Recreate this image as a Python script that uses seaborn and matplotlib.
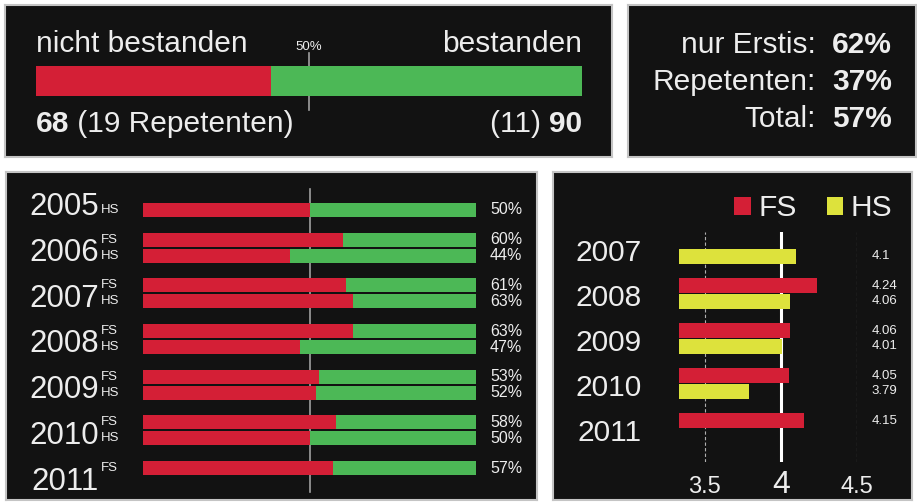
import numpy as np
import pandas as pd
import matplotlib
matplotlib.use("Agg")
import matplotlib.pyplot as plt
import matplotlib.transforms as mtransforms
import seaborn as sns

# Gesamtergebnis
failed_total = 68
passed_total = 90
failed_repeaters = 19
passed_repeaters = 11
rate_labels = ["nur Erstis:", "Repetenten:", "Total:"]
rate_values = ["62%", "37%", "57%"]

# Bestehensquote pro Pruefung
exam_years = ["2005", "2006", "2006", "2007", "2007", "2008", "2008",
              "2009", "2009", "2010", "2010", "2011"]
exam_sessions = ["HS", "FS", "HS", "FS", "HS", "FS", "HS", "FS", "HS", "FS", "HS", "FS"]
exam_pass_pct = [50, 60, 44, 61, 63, 63, 47, 53, 52, 58, 50, 57]

# Notenschnitt
grade_years = ["2007", "2008", "2008", "2009", "2009", "2010", "2010", "2011"]
grade_sessions = ["HS", "FS", "HS", "FS", "HS", "FS", "HS", "FS"]
grade_avg = [4.1, 4.24, 4.06, 4.06, 4.01, 4.05, 3.79, 4.15]
grade_ticks = [3.5, 4, 4.5]

sessions = ["FS", "HS"]

RED = "#d41f36"
GREEN = "#4cb856"
YELLOW = "#dde23c"
BG = "#121212"
EDGE = "#c4c4c4"
TXT = "#ededed"
LINE = "#a0a0a0"
BIG = 21.5

plt.rcParams['font.family'] = ['Liberation Sans', 'DejaVu Sans']

W, H = 917, 504


# pixel box (left, top, right, bottom) -> figure rect
def px_rect(x0, y0, x1, y1):
    return [x0 / W, 1 - y1 / H, (x1 - x0) / W, (y1 - y0) / H]


def panel(fig, box):
    ax = fig.add_axes(px_rect(*box))
    ax.set_facecolor(BG)
    ax.set_xticks([])
    ax.set_yticks([])
    for s in ax.spines.values():
        s.set_color(EDGE)
        s.set_linewidth(1.5)
    ax.set_xlim(box[0], box[2])
    ax.set_ylim(box[3], box[1])
    return ax


def clean(ax):
    ax.set_facecolor("none")
    for s in ax.spines.values():
        s.set_visible(False)
    ax.set_xlabel("")
    ax.set_ylabel("")
    ax.tick_params(left=False, bottom=False, labelleft=False, labelbottom=False)


fig = plt.figure(figsize=(W / 100, H / 100), dpi=100)
fig.patch.set_facecolor("white")

# ---- Panel oben links: Gesamtbalken ----
p1 = panel(fig, (5, 5, 612, 157))
ax1 = fig.add_axes(px_rect(36, 66, 582, 96))
total = failed_total + passed_total
sns.barplot(x=[total], y=["alle"], color=GREEN, width=1, saturation=1, linewidth=0, ax=ax1)
sns.barplot(x=[failed_total], y=["alle"], color=RED, width=1, saturation=1, linewidth=0, ax=ax1)
ax1.set_xlim(0, total)
ax1.set_ylim(0.5, -0.5)
clean(ax1)
ax1.axvline(total / 2, ymin=-0.47, ymax=1.43, clip_on=False, color=LINE, lw=1.2, zorder=0)

p1.text(36, 52, "nicht bestanden", color=TXT, fontsize=BIG, ha="left", va="baseline")
p1.text(582, 52, "bestanden", color=TXT, fontsize=BIG, ha="right", va="baseline")
p1.text(309, 50, "50%", color=TXT, fontsize=9.5, ha="center", va="baseline")
t = p1.text(36, 138, str(failed_total), color=TXT, fontsize=BIG, fontweight="bold",
            ha="left", va="bottom")
p1.annotate(f" ({failed_repeaters} Repetenten)", xy=(1, 0), xycoords=t, color=TXT,
            fontsize=BIG, ha="left", va="bottom")
t = p1.text(582, 138, str(passed_total), color=TXT, fontsize=BIG, fontweight="bold",
            ha="right", va="bottom")
p1.annotate(f"({passed_repeaters}) ", xy=(0, 0), xycoords=t, color=TXT,
            fontsize=BIG, ha="right", va="bottom")

# ---- Panel oben rechts: Quoten ----
p2 = panel(fig, (628, 5, 916, 157))
for i, (lab, val) in enumerate(zip(rate_labels, rate_values)):
    p2.text(816, 53 + i * 37, lab, color=TXT, fontsize=BIG, ha="right", va="baseline")
    p2.text(832, 53 + i * 37, val, color=TXT, fontsize=BIG, fontweight="bold",
            ha="left", va="baseline")

# ---- Panel unten links: Bestehensquote pro Pruefung ----
p3 = panel(fig, (6, 172, 537, 500))
ax2 = fig.add_axes(px_rect(143, 179, 476, 499))
exam_df = pd.DataFrame({"Jahr": exam_years, "Semester": exam_sessions,
                        "Bestanden": exam_pass_pct})
exam_df["Voll"] = 100
year_order = sorted(set(exam_years))
sns.barplot(data=exam_df, x="Voll", y="Jahr", hue="Semester", order=year_order,
            hue_order=sessions, palette={"FS": GREEN, "HS": GREEN}, width=0.7, gap=0.12,
            saturation=1, linewidth=0, legend=False, ax=ax2)
sns.barplot(data=exam_df, x="Bestanden", y="Jahr", hue="Semester", order=year_order,
            hue_order=sessions, palette={"FS": RED, "HS": RED}, width=0.7, gap=0.12,
            saturation=1, linewidth=0, legend=False, ax=ax2)
ax2.set_xlim(0, 100)
ax2.set_ylim(len(year_order) - 0.5, -0.5)
clean(ax2)
ax2.axvline(50, ymin=0.022, ymax=0.97, color=LINE, lw=1.2, zorder=0)

blend2 = mtransforms.blended_transform_factory(ax2.transAxes, ax2.transData)
for sess, cont in zip(sessions, ax2.containers[:2]):
    for bar in cont:
        yc = bar.get_y() + bar.get_height() / 2
        year = year_order[int(round(yc))]
        val = exam_df.loc[(exam_df.Jahr == year) & (exam_df.Semester == sess), "Bestanden"].iloc[0]
        ax2.text(1.042, yc, f"{val}%", transform=blend2, color=TXT, fontsize=11.5,
                 ha="left", va="center")
        ax2.text(-0.126, yc, sess, transform=blend2, color=TXT, fontsize=9.5,
                 ha="left", va="center")
for i, year in enumerate(year_order):
    ax2.text(-0.132, i + 0.12, year, transform=blend2, color=TXT, fontsize=22.5,
             ha="right", va="center")

# ---- Panel unten rechts: Notenschnitt ----
p4 = panel(fig, (553, 172, 912, 500))
ax3 = fig.add_axes(px_rect(679, 232, 857, 462))
grade_df = pd.DataFrame({"Jahr": grade_years, "Semester": grade_sessions, "Note": grade_avg})
grade_order = sorted(set(grade_years))
sns.barplot(data=grade_df, x="Note", y="Jahr", hue="Semester", order=grade_order,
            hue_order=sessions, palette={"FS": RED, "HS": YELLOW}, width=0.7, gap=0.05,
            saturation=1, linewidth=0, ax=ax3)
ax3.set_xlim(3.33, 4.5)
ax3.set_ylim(4.744, -0.367)
clean(ax3)
for g in grade_ticks:
    if g == 4:
        ax3.axvline(g, color="white", lw=2.2, zorder=0)
    else:
        ax3.axvline(g, color="#b0b0b0", lw=0.8, ls=(0, (3, 2)), zorder=0)
ax3.set_xticks(grade_ticks)
ax3.set_xticklabels([f"{g:g}" for g in grade_ticks])
ax3.tick_params(labelbottom=True, colors=TXT, pad=19)
for lab in ax3.get_xticklabels():
    lab.set_fontsize(23 if lab.get_text() == "4" else 17)
    lab.set_verticalalignment("baseline")

blend3 = mtransforms.blended_transform_factory(ax3.transAxes, ax3.transData)
for sess, cont in zip(sessions, ax3.containers[:2]):
    for bar in cont:
        yc = bar.get_y() + bar.get_height() / 2
        year = grade_order[int(round(yc))]
        val = grade_df.loc[(grade_df.Jahr == year) & (grade_df.Semester == sess), "Note"].iloc[0]
        ax3.text(1.084, yc, f"{val:g}", transform=blend3, color=TXT, fontsize=9.5,
                 ha="left", va="center")
for i, year in enumerate(grade_order):
    ax3.text(-0.208, i + 0.1, year, transform=blend3, color=TXT, fontsize=BIG,
             ha="right", va="center")

sns.move_legend(ax3, "center right", bbox_to_anchor=(1.197, 1.104), ncol=2, frameon=False,
                title=None, fontsize=BIG, labelcolor=TXT, handlelength=0.55, handleheight=0.55,
                handletextpad=0.25, columnspacing=1.0, borderaxespad=0, borderpad=0)

fig.savefig("out.png", dpi=100, facecolor="white")
